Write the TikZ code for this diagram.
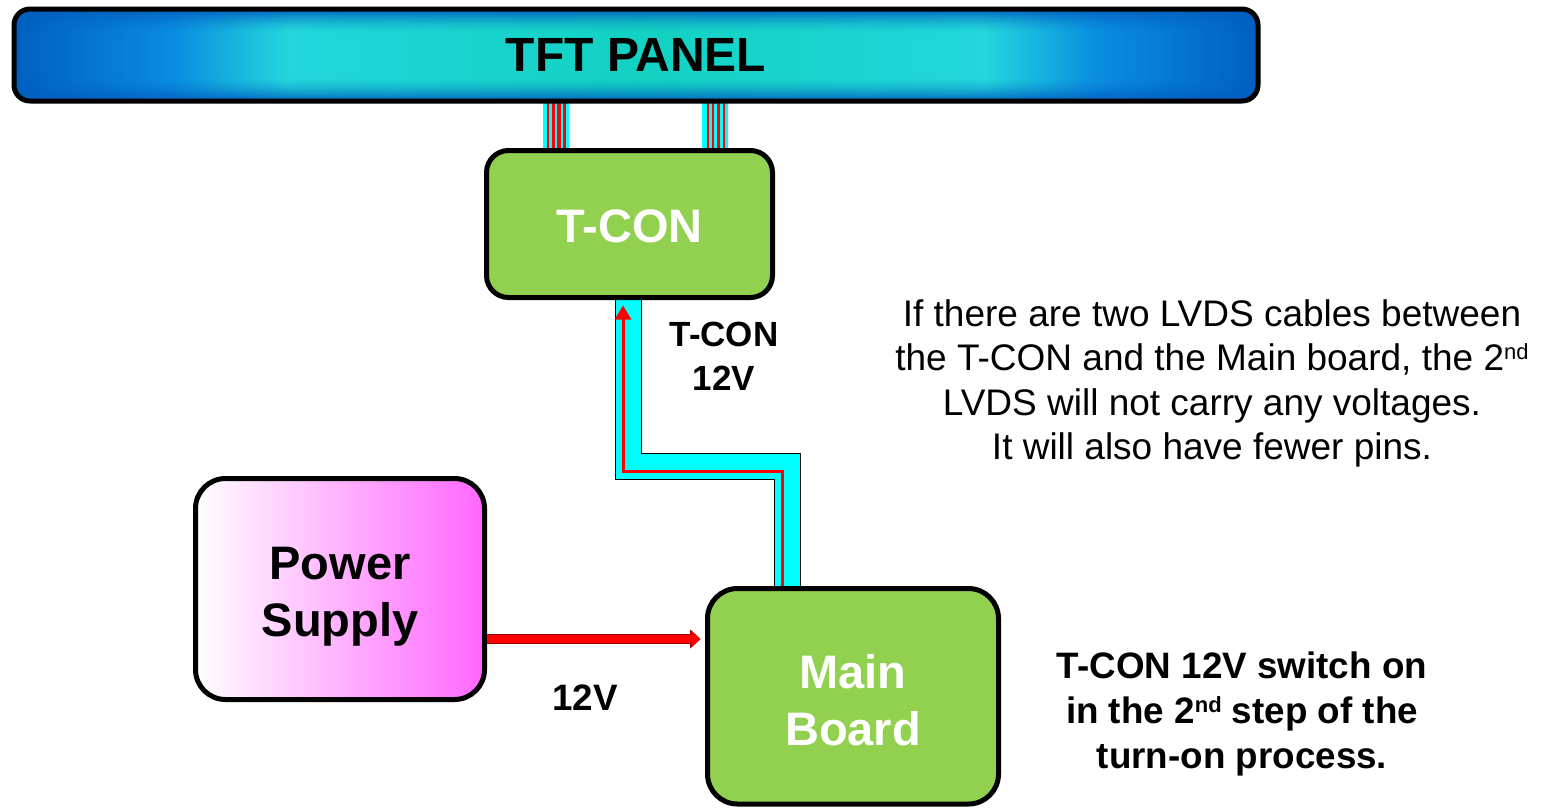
\documentclass[tikz,border=0pt]{standalone}
\usepackage{fontspec}
\setmainfont{Liberation Sans}
\usetikzlibrary{arrows.meta}

\definecolor{boardgreen}{HTML}{92D050}
\definecolor{panelblue}{HTML}{005FC0}
\definecolor{panelsky}{HTML}{0A8EE0}
\definecolor{panelcyan}{HTML}{22D6DC}
\definecolor{panelteal}{HTML}{12D2C2}
\definecolor{psmagenta}{HTML}{FF66FF}
\definecolor{cablecyan}{HTML}{00FFFF}
\definecolor{wirered}{HTML}{FF0000}
\definecolor{wireedge}{HTML}{A00000}

% left-to-right body colour of the panel (inner 25bp..75bp spans the path)
\pgfdeclarehorizontalshading{panelshade}{100bp}{%
  color(0bp)=(panelblue); color(25bp)=(panelblue); color(31.5bp)=(panelsky);
  color(36bp)=(panelcyan); color(50bp)=(panelteal); color(64bp)=(panelcyan);
  color(68.5bp)=(panelsky); color(75bp)=(panelblue); color(100bp)=(panelblue)}

\newcommand\ordsup[1]{\raisebox{0.3em}{\fontsize{22}{22}\selectfont #1}}

\begin{document}
\begin{tikzpicture}[x=1pt,y=-1pt,
  boxline/.style={draw=black, line width=5pt, inner sep=0pt, align=center},
  greenbox/.style={boxline, fill=boardgreen},
  boxtext/.style={font=\fontsize{47}{57}\selectfont\bfseries, align=center, inner sep=0pt},
  ribbon/.style={fill=cablecyan, draw=black, line width=1pt},
  stripe/.style={fill=wirered},
  wire/.style={draw=wirered, line width=3pt, -{Triangle[length=14pt,width=16pt]}},
  feed/.style={draw=wirered, line width=8pt, -{Triangle[length=9pt,width=16pt]},
    preaction={draw=wireedge, line width=9.4pt, -{Triangle[length=10.5pt,width=18.5pt]}}},
  label/.style={font=\fontsize{35}{44.5}\selectfont\bfseries, align=center, inner sep=0pt},
  note/.style={font=\fontsize{37}{44.5}\selectfont, align=center, inner sep=0pt},
  boldnote/.style={font=\fontsize{36.8}{45}\selectfont\bfseries, align=center, inner sep=0pt}]

\useasboundingbox (0,0) rectangle (1549,807);

% ---- LVDS ribbons from the panel down to the T-CON ----
\fill[cablecyan] (543,101) rectangle (569,152);
\foreach \a/\b in {547.3/548.6, 552.2/554.6, 557.2/560.6, 563.2/565.6}
  \fill[stripe] (\a,101) rectangle (\b,152);
\fill[cablecyan] (702,101) rectangle (728,152);
\foreach \a/\b in {706.6/709, 711.8/714.2, 717/720.2, 722.8/725.2}
  \fill[stripe] (\a,101) rectangle (\b,152);

% ---- LVDS ribbon between T-CON and main board ----
\path[ribbon] (615,296) -- (615,479) -- (774,479) -- (774,590) -- (800,590)
  -- (800,453) -- (641,453) -- (641,296) -- cycle;

% ---- TFT panel ----
\shade[shading=panelshade, rounded corners=16pt] (14,9) rectangle (1258,101);
\begin{scope}
  \clip[rounded corners=16pt] (14,9) rectangle (1258,101);
  \foreach \i in {0,...,21} {
    \pgfmathsetmacro\op{0.85*(1-\i/22)^1.6}
    \fill[panelblue, opacity=\op] (14,11+\i) rectangle (1258,12.2+\i);
    \fill[panelblue, opacity=\op] (14,98.8-\i) rectangle (1258,100-\i);
  }
\end{scope}
\node[boxline, rounded corners=16pt, minimum width=1244pt, minimum height=92pt,
  font=\fontsize{48}{57}\selectfont\bfseries] (panel) at (636,55) {TFT PANEL};

% ---- boards ----
\node[greenbox, rounded corners=22pt, minimum width=286pt, minimum height=147pt]
  (tcon) at (629.5,224) {};
\node[boxtext, text=white] (tcontext) at ([yshift=-2pt]tcon.center) {T-CON};

\node[boxline, rounded corners=30pt, minimum width=289pt, minimum height=221pt,
  left color=white, right color=psmagenta] (psu) at (340,589) {};
\node[boxtext] (psutext) at ([yshift=-8pt]psu.center) {Power\\Supply};

\node[greenbox, rounded corners=30pt, minimum width=291pt, minimum height=215.5pt]
  (mainboard) at (853,696.25) {};
\node[boxtext, text=white] (mainboardtext) at ([yshift=-4pt]mainboard.center) {Main\\Board};

% ---- 12V feeds ----
\coordinate (feedrow) at (0,639);
\draw[feed] (psu.east |- feedrow) -- ([xshift=-4.5pt]mainboard.west |- feedrow);

\coordinate (upx) at (782,0);
\coordinate (bend) at (623,471);
\draw[wire] (mainboard.north -| upx) |- (bend) -- ([yshift=-5.5pt]tcon.south -| bend);

% ---- labels ----
\node[label] (tconv) at (724,356.5) {T-CON\\12V};
\node[boldnote] (psuv) at (585,698) {12V};
\node[note] (lvdsnote) at (1212,383.4) {If there are two LVDS cables between\\
  the T-CON and the Main board, the 2\ordsup{nd}\\
  LVDS will not carry any voltages.\\
  It will also have fewer pins.};
\node[boldnote] (stepnote) at (1242,713.6) {T-CON 12V switch on\\
  in the 2\ordsup{nd} step of the\\
  turn-on process.};
\end{tikzpicture}
\end{document}
